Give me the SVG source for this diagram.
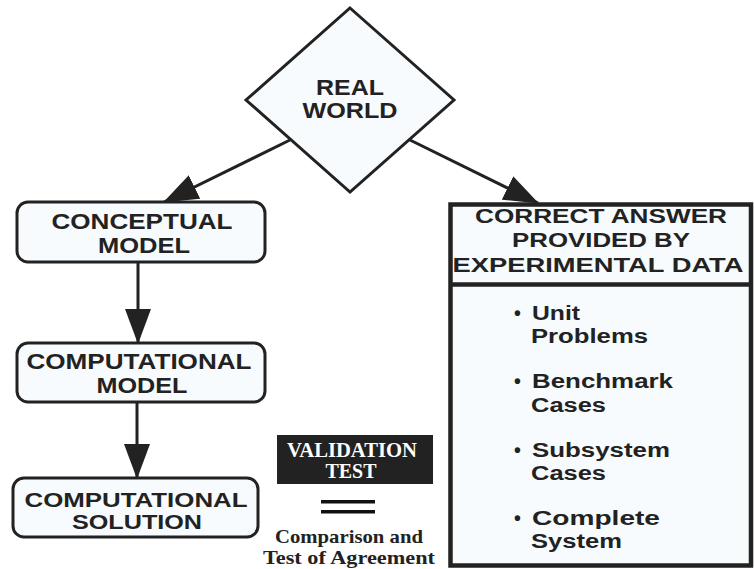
<svg xmlns="http://www.w3.org/2000/svg" width="754" height="569" viewBox="0 0 754 569">
<style>
.s{font-family:"Liberation Sans",Arial,sans-serif;font-weight:bold;fill:#222;}
.c{text-anchor:middle;}
.t{font-family:"Liberation Serif","Times New Roman",serif;font-weight:bold;text-anchor:middle;}
.box{fill:#f7fbfd;stroke:#222;stroke-width:3;}
.ln{stroke:#222;stroke-width:3;fill:none;}
</style>
<defs>
<marker id="ah" markerUnits="userSpaceOnUse" markerWidth="36" markerHeight="26" refX="34" refY="13" orient="auto" viewBox="0 0 36 26">
<path d="M0,0 L35,13 L0,26 Z" fill="#222"/>
</marker>
</defs>
<rect width="754" height="569" fill="#fff"/>

<g id="connectors">
<line class="ln" x1="290" y1="140" x2="164" y2="202" marker-end="url(#ah)"/>
<line class="ln" x1="410" y1="140" x2="538" y2="203" marker-end="url(#ah)"/>
<line class="ln" x1="138" y1="262" x2="138" y2="343" marker-end="url(#ah)"/>
<line class="ln" x1="137" y1="402" x2="137" y2="478" marker-end="url(#ah)"/>
</g>

<g id="real-world">
<polygon class="box" points="350,8 454,100 350,192 246,100"/>
<text class="s c" x="350" y="95" font-size="21.5" textLength="68" lengthAdjust="spacingAndGlyphs">REAL</text>
<text class="s c" x="350" y="118" font-size="21.5" textLength="95" lengthAdjust="spacingAndGlyphs">WORLD</text>
</g>

<g id="conceptual-model">
<rect class="box" x="17" y="202" width="248" height="60" rx="11"/>
<text class="s c" x="142" y="229" font-size="22" textLength="181" lengthAdjust="spacingAndGlyphs">CONCEPTUAL</text>
<text class="s c" x="144" y="253" font-size="22" textLength="92" lengthAdjust="spacingAndGlyphs">MODEL</text>
</g>

<g id="computational-model">
<rect class="box" x="17" y="343" width="248" height="59" rx="11"/>
<text class="s c" x="139" y="369" font-size="21.5" textLength="225" lengthAdjust="spacingAndGlyphs">COMPUTATIONAL</text>
<text class="s c" x="142" y="393" font-size="21.5" textLength="91" lengthAdjust="spacingAndGlyphs">MODEL</text>
</g>

<g id="computational-solution">
<rect class="box" x="13" y="478" width="245" height="59" rx="11"/>
<text class="s c" x="136" y="507" font-size="21" textLength="223" lengthAdjust="spacingAndGlyphs">COMPUTATIONAL</text>
<text class="s c" x="137" y="529" font-size="21" textLength="130" lengthAdjust="spacingAndGlyphs">SOLUTION</text>
</g>

<g id="validation-test">
<rect x="277" y="435" width="156" height="49" fill="#222"/>
<text class="t" x="352" y="457" font-size="20" fill="#fff" textLength="130" lengthAdjust="spacingAndGlyphs">VALIDATION</text>
<text class="t" x="351" y="478" font-size="20" fill="#fff" textLength="51" lengthAdjust="spacingAndGlyphs">TEST</text>
<rect x="321" y="500" width="54" height="3.5" fill="#111"/>
<rect x="321" y="510" width="54" height="3.5" fill="#111"/>
<text class="t" x="349" y="543" font-size="19.5" fill="#222" textLength="148" lengthAdjust="spacingAndGlyphs">Comparison and</text>
<text class="t" x="349" y="564" font-size="19.5" fill="#222" textLength="172" lengthAdjust="spacingAndGlyphs">Test of Agreement</text>
</g>

<g id="experimental-data">
<rect x="450.5" y="204.5" width="300.5" height="361" fill="#f7fbfd" stroke="#222" stroke-width="4.5"/>
<line x1="450" y1="284.5" x2="751" y2="284.5" stroke="#222" stroke-width="4.5"/>
<text class="s c" x="601" y="223" font-size="19.5" textLength="252" lengthAdjust="spacingAndGlyphs">CORRECT ANSWER</text>
<text class="s c" x="601" y="247" font-size="19.5" textLength="178" lengthAdjust="spacingAndGlyphs">PROVIDED BY</text>
<text class="s c" x="598" y="272" font-size="19.5" textLength="291" lengthAdjust="spacingAndGlyphs">EXPERIMENTAL DATA</text>
<text class="s" x="514" y="320" font-size="19.5">•</text>
<text class="s" x="532" y="320" font-size="19.5" textLength="48" lengthAdjust="spacingAndGlyphs">Unit</text>
<text class="s" x="531" y="343" font-size="19.5" textLength="117" lengthAdjust="spacingAndGlyphs">Problems</text>
<text class="s" x="514" y="388" font-size="19.5">•</text>
<text class="s" x="532" y="388" font-size="19.5" textLength="141" lengthAdjust="spacingAndGlyphs">Benchmark</text>
<text class="s" x="531" y="412" font-size="19.5" textLength="75" lengthAdjust="spacingAndGlyphs">Cases</text>
<text class="s" x="514" y="457" font-size="19.5">•</text>
<text class="s" x="532" y="457" font-size="19.5" textLength="138" lengthAdjust="spacingAndGlyphs">Subsystem</text>
<text class="s" x="531" y="480" font-size="19.5" textLength="75" lengthAdjust="spacingAndGlyphs">Cases</text>
<text class="s" x="514" y="525" font-size="19.5">•</text>
<text class="s" x="532" y="525" font-size="19.5" textLength="128" lengthAdjust="spacingAndGlyphs">Complete</text>
<text class="s" x="531" y="548" font-size="19.5" textLength="91" lengthAdjust="spacingAndGlyphs">System</text>
</g>
</svg>
